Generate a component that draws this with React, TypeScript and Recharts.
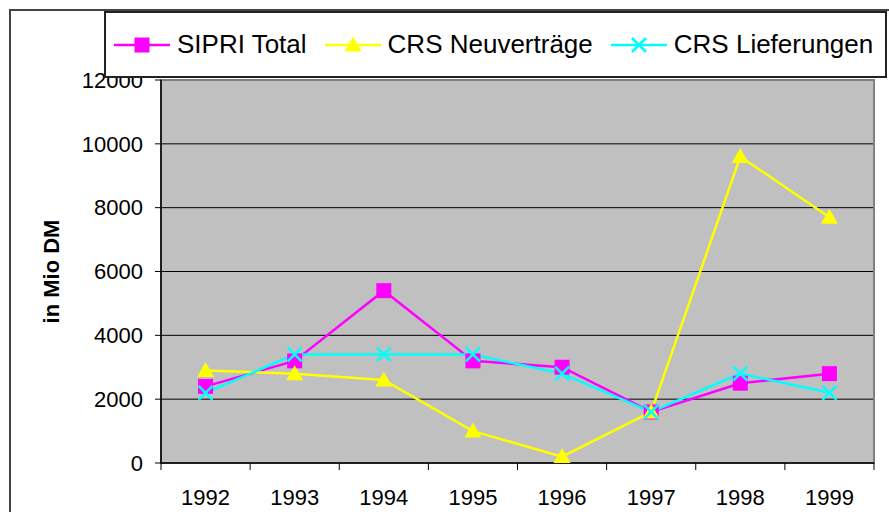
import React from 'react';
import { LineChart, Line, XAxis, YAxis, CartesianGrid, Legend, ReferenceArea, Label } from 'recharts';

const years = ['1992', '1993', '1994', '1995', '1996', '1997', '1998', '1999'];
const sipriTotal = [2400, 3200, 5400, 3200, 3000, 1600, 2500, 2800];
const crsNeuvertraege = [2900, 2800, 2600, 1000, 200, 1600, 9600, 7700];
const crsLieferungen = [2200, 3400, 3400, 3400, 2800, 1600, 2800, 2200];
const yTicks = [0, 2000, 4000, 6000, 8000, 10000, 12000];
const seriesOrder = ['sipri', 'neu', 'lief'];

const data = years.map((y, i) => ({
  year: y,
  sipri: sipriTotal[i],
  neu: crsNeuvertraege[i],
  lief: crsLieferungen[i],
}));

const FONT = '"Liberation Sans", Arial, sans-serif';
const MAGENTA = '#FF00FF';
const YELLOW = '#FFFF00';
const CYAN = '#00FFFF';

const markerShape = (kind: string, cx: number, cy: number, key?: string) => {
  if (kind === 'square') {
    return <rect key={key} x={cx - 7.5} y={cy - 7.5} width={15} height={15} fill={MAGENTA} />;
  }
  if (kind === 'triangle') {
    return (
      <polygon
        key={key}
        points={`${cx},${cy - 8.5} ${cx - 8.5},${cy + 6.5} ${cx + 8.5},${cy + 6.5}`}
        fill={YELLOW}
      />
    );
  }
  return (
    <g key={key}>
      <line x1={cx - 7} y1={cy - 7} x2={cx + 7} y2={cy + 7} stroke={CYAN} strokeWidth={2.5} />
      <line x1={cx - 7} y1={cy + 7} x2={cx + 7} y2={cy - 7} stroke={CYAN} strokeWidth={2.5} />
    </g>
  );
};

const makeDot = (kind: string) => (props: any) => {
  const { cx, cy, index } = props;
  return markerShape(kind, cx, cy, `${kind}-${index}`);
};

const kindByKey: Record<string, string> = { sipri: 'square', neu: 'triangle', lief: 'cross' };

const renderLegend = (props: any) => {
  const items = [...(props.payload || [])].sort(
    (a: any, b: any) => seriesOrder.indexOf(a.dataKey) - seriesOrder.indexOf(b.dataKey)
  );
  return (
    <div
      style={{
        display: 'flex',
        alignItems: 'center',
        height: '100%',
        boxSizing: 'border-box',
        border: '2px solid #222',
        background: '#fff',
        paddingLeft: 8,
        gap: 18,
        fontFamily: FONT,
        fontSize: 26,
        color: '#000',
      }}
    >
      {items.map((p: any) => (
        <div key={p.dataKey} style={{ display: 'flex', alignItems: 'center', gap: 7 }}>
          <svg width={56} height={20}>
            <line x1={0} y1={10} x2={56} y2={10} stroke={p.color} strokeWidth={2.5} />
            {markerShape(kindByKey[p.dataKey], 28, 10)}
          </svg>
          <span style={{ whiteSpace: 'nowrap' }}>{p.value}</span>
        </div>
      ))}
    </div>
  );
};

const XTick = (props: any) => {
  const { x, y, payload, index, visibleTicksCount } = props;
  const half = payload && typeof payload.offset === 'number' ? payload.offset : 0;
  const isLast = index === (visibleTicksCount ?? years.length) - 1;
  return (
    <g>
      <line x1={x - half} y1={y} x2={x - half} y2={y + 7} stroke="#000" strokeWidth={1} />
      {isLast && <line x1={x + half} y1={y} x2={x + half} y2={y + 7} stroke="#000" strokeWidth={1} />}
      <text x={x} y={y + 42} textAnchor="middle" fontFamily={FONT} fontSize={22} fill="#000">
        {payload.value}
      </text>
    </g>
  );
};

const renderYLabel = (props: any) => {
  const vb = props.viewBox || {};
  const x = (vb.x ?? 0) + 51;
  const y = (vb.y ?? 0) + (vb.height ?? 0) / 2;
  return (
    <text
      x={x}
      y={y}
      transform={`rotate(-90, ${x}, ${y})`}
      textAnchor="middle"
      dominantBaseline="central"
      fontFamily={FONT}
      fontWeight="bold"
      fontSize={22}
      fill="#000"
    >
      in Mio DM
    </text>
  );
};

export default function App() {
  return (
    <div
      style={{
        position: 'absolute',
        left: 0,
        top: 0,
        width: 889,
        height: 512,
        background: '#fff',
        overflow: 'hidden',
      }}
    >
      <div
        style={{
          position: 'absolute',
          left: 9,
          top: 9,
          width: 1000,
          height: 1000,
          border: '2px solid #444',
        }}
      />
      <div style={{ position: 'absolute', left: 0, top: 0 }}>
        <LineChart
          width={889}
          height={512}
          data={data}
          margin={{ top: 80, right: 15, left: 0, bottom: 0 }}
        >
          <CartesianGrid vertical={false} stroke="#000" strokeWidth={1} fill="#C0C0C0" fillOpacity={1} />
          <ReferenceArea y1={0} y2={12000} fill="none" stroke="#808080" strokeWidth={2} ifOverflow="visible" />
          <XAxis
            dataKey="year"
            scale="band"
            height={49}
            tickLine={false}
            tickSize={0}
            tickMargin={0}
            axisLine={{ stroke: '#000', strokeWidth: 1.5 }}
            tick={<XTick />}
            interval={0}
          />
          <YAxis
            width={161}
            domain={[0, 12000]}
            ticks={yTicks}
            interval={0}
            tickSize={6}
            tickMargin={12}
            axisLine={{ stroke: '#000', strokeWidth: 1.5 }}
            tickLine={{ stroke: '#000' }}
            tick={{ fontFamily: FONT, fontSize: 22, fill: '#000' }}
          >
            <Label content={renderYLabel} />
          </YAxis>
          <Legend
            layout="horizontal"
            verticalAlign="middle"
            align="center"
            content={renderLegend}
            wrapperStyle={{ left: 104, top: 11, width: 783, height: 67 }}
          />
          <Line
            type="linear"
            dataKey="sipri"
            name="SIPRI Total"
            stroke={MAGENTA}
            strokeWidth={2.5}
            dot={makeDot('square')}
            activeDot={false}
            isAnimationActive={false}
          />
          <Line
            type="linear"
            dataKey="neu"
            name="CRS Neuverträge"
            stroke={YELLOW}
            strokeWidth={2.5}
            dot={makeDot('triangle')}
            activeDot={false}
            isAnimationActive={false}
          />
          <Line
            type="linear"
            dataKey="lief"
            name="CRS Lieferungen"
            stroke={CYAN}
            strokeWidth={2.5}
            dot={makeDot('cross')}
            activeDot={false}
            isAnimationActive={false}
          />
        </LineChart>
      </div>
    </div>
  );
}
